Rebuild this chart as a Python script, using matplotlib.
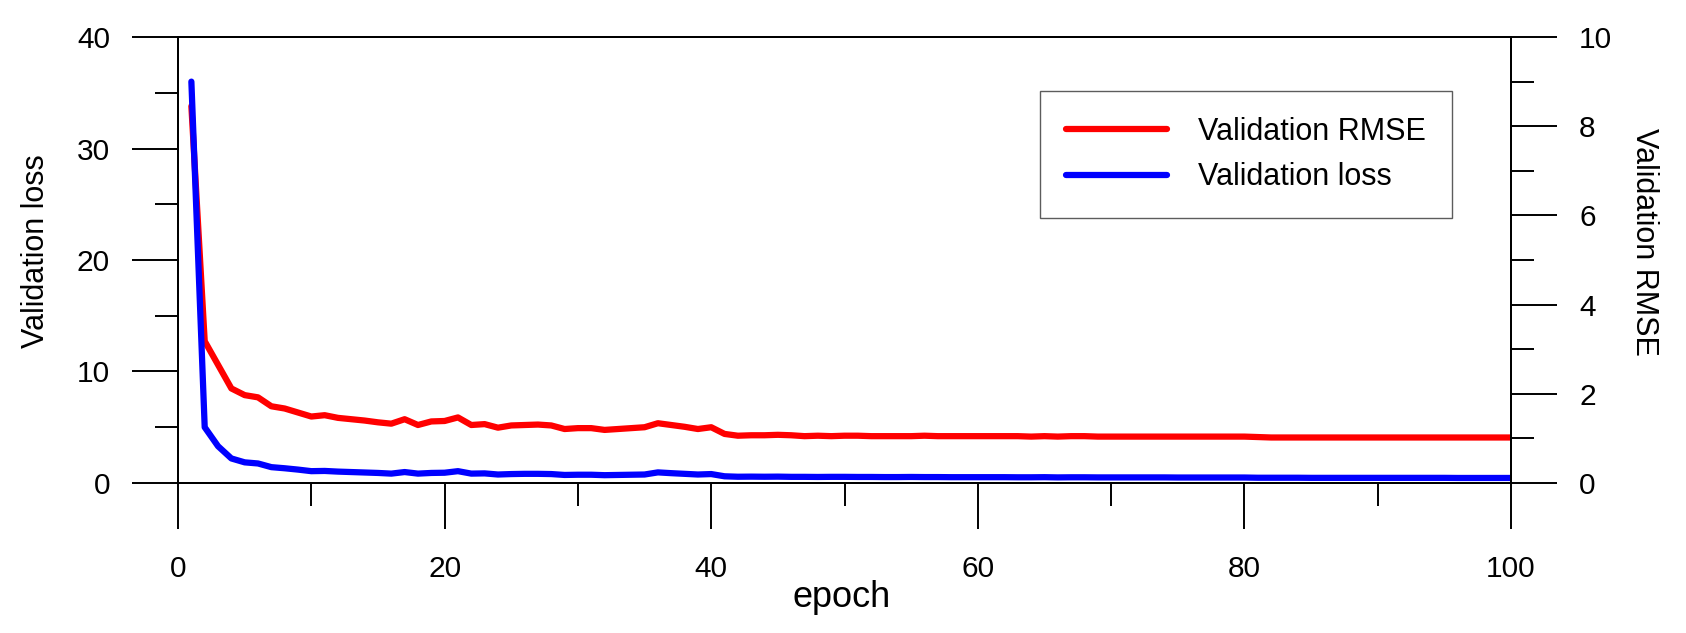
import numpy as np
import matplotlib
matplotlib.use('Agg')
import matplotlib.pyplot as plt
from matplotlib.ticker import MultipleLocator

plt.rcParams['font.family'] = ['Liberation Sans', 'DejaVu Sans']

# 数据：每个epoch的验证损失和验证RMSE
epochs = np.arange(1, 101)

val_loss = [
    36.0, 5.0, 3.3, 2.2, 1.85, 1.75, 1.42, 1.32, 1.2, 1.06,
    1.08, 1.02, 0.98, 0.94, 0.9, 0.84, 0.98, 0.84, 0.9, 0.92,
    1.06, 0.84, 0.86, 0.76, 0.8, 0.82, 0.82, 0.8, 0.72, 0.74,
    0.74, 0.7, 0.72, 0.74, 0.76, 0.95, 0.88, 0.82, 0.76, 0.8,
    0.6, 0.56, 0.57, 0.56, 0.57, 0.55, 0.55, 0.54, 0.55, 0.55,
    0.54, 0.54, 0.53, 0.53, 0.54, 0.53, 0.53, 0.52, 0.52, 0.52,
    0.52, 0.52, 0.51, 0.51, 0.52, 0.5, 0.51, 0.51, 0.5, 0.5,
    0.5, 0.5, 0.5, 0.5, 0.49, 0.49, 0.49, 0.49, 0.49, 0.49,
    0.47, 0.47, 0.47, 0.47, 0.46, 0.46, 0.46, 0.46, 0.46, 0.46,
    0.46, 0.46, 0.46, 0.46, 0.46, 0.45, 0.45, 0.45, 0.45, 0.45,
]

val_rmse = [
    8.45, 3.18, 2.65, 2.12, 1.97, 1.92, 1.72, 1.67, 1.58, 1.49,
    1.52, 1.46, 1.43, 1.40, 1.36, 1.33, 1.43, 1.30, 1.38, 1.39,
    1.47, 1.30, 1.32, 1.24, 1.29, 1.30, 1.31, 1.29, 1.21, 1.23,
    1.23, 1.19, 1.21, 1.23, 1.25, 1.34, 1.30, 1.26, 1.21, 1.25,
    1.10, 1.06, 1.07, 1.07, 1.08, 1.07, 1.05, 1.06, 1.05, 1.06,
    1.06, 1.05, 1.05, 1.05, 1.05, 1.06, 1.05, 1.05, 1.05, 1.05,
    1.05, 1.05, 1.05, 1.04, 1.05, 1.04, 1.05, 1.05, 1.04, 1.04,
    1.04, 1.04, 1.04, 1.04, 1.04, 1.04, 1.04, 1.04, 1.04, 1.04,
    1.03, 1.02, 1.02, 1.02, 1.02, 1.02, 1.02, 1.02, 1.02, 1.02,
    1.02, 1.02, 1.02, 1.02, 1.02, 1.02, 1.02, 1.02, 1.02, 1.02,
]

fig = plt.figure(figsize=(16.86, 6.33), dpi=100)
ax1 = fig.add_axes([0.1056, 0.237, 0.7906, 0.7045])
ax2 = ax1.twinx()

# 右轴放在下面，让蓝线盖住红线
ax1.set_zorder(ax2.get_zorder() + 1)
ax1.patch.set_visible(False)

l_rmse, = ax2.plot(epochs, val_rmse, color='#ff0000', linewidth=4.5,
                   solid_capstyle='round', label='Validation RMSE')
l_loss, = ax1.plot(epochs, val_loss, color='#0000ff', linewidth=4.5,
                   solid_capstyle='round', label='Validation loss')

ax1.set_xlim(0, 100)
ax1.set_ylim(0, 40)
ax2.set_ylim(0, 10)

ax1.xaxis.set_major_locator(MultipleLocator(20))
ax1.xaxis.set_minor_locator(MultipleLocator(10))
ax1.yaxis.set_major_locator(MultipleLocator(10))
ax1.yaxis.set_minor_locator(MultipleLocator(5))
ax2.yaxis.set_major_locator(MultipleLocator(2))
ax2.yaxis.set_minor_locator(MultipleLocator(1))

for ax in (ax1, ax2):
    for s in ax.spines.values():
        s.set_linewidth(1.4)
    ax.tick_params(which='major', direction='out', length=33, width=1.4,
                   labelsize=21.5)
    ax.tick_params(which='minor', direction='out', length=16.5, width=1.4)
ax1.tick_params(axis='y', which='major', pad=16)
ax1.tick_params(axis='x', which='major', pad=19)
ax2.tick_params(axis='y', which='major', pad=16)

ax1.set_xlabel('epoch', fontsize=26)
ax1.xaxis.set_label_coords(0.498, -0.2175)
ax1.set_ylabel('Validation loss', fontsize=22)
ax1.yaxis.set_label_coords(-0.095, 0.52)
ax2.set_ylabel('Validation RMSE', fontsize=22, rotation=270, va='center')
ax2.yaxis.set_label_coords(1.1, 0.54)

leg = ax1.legend(handles=[l_rmse, l_loss], loc='upper left',
                 bbox_to_anchor=(0.647, 0.879), fontsize=22,
                 frameon=True, fancybox=False, handlelength=3.3,
                 handletextpad=1.0, labelspacing=0.5, borderpad=0.85,
                 borderaxespad=0)
leg.get_frame().set_edgecolor('#333333')
leg.get_frame().set_linewidth(1.0)

plt.savefig('out.png', dpi=100)
plt.close()
